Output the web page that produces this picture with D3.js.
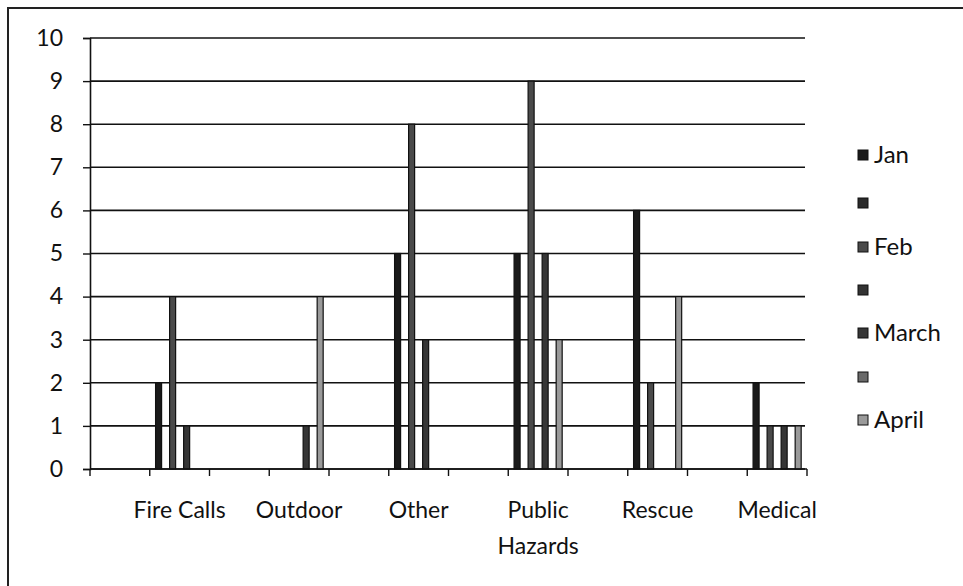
<!DOCTYPE html>
<html><head><meta charset="utf-8">
<script src="https://cdn.jsdelivr.net/npm/d3@7"></script>
<style>html,body{margin:0;padding:0;background:#fff;}svg{display:block;}</style>
</head><body>
<svg id="c" width="963" height="586"></svg>
<script>
// ---- data ----
const categories = ["", "Fire Calls", "", "Outdoor", "", "Other", "", "Public Hazards", "", "Rescue", "", "Medical"];
const seriesNames = ["Jan", "", "Feb", "", "March", "", "April"];
const janValues   = [null, 2, null, 0, null, 5, null, 5, null, 6, null, 2];
const blank1      = [null, null, null, null, null, null, null, null, null, null, null, null];
const febValues   = [null, 4, null, 0, null, 8, null, 9, null, 2, null, 1];
const blank2      = [null, null, null, null, null, null, null, null, null, null, null, null];
const marchValues = [null, 1, null, 1, null, 3, null, 5, null, 0, null, 1];
const blank3      = [null, null, null, null, null, null, null, null, null, null, null, null];
const aprilValues = [null, 0, null, 4, null, 0, null, 3, null, 4, null, 1];
const yTicks = [0,1,2,3,4,5,6,7,8,9,10];

const seriesValues = [janValues, blank1, febValues, blank2, marchValues, blank3, aprilValues];
const fills = ["#1a1a1a", "#2a2a2a", "#4a4a4a", "#333333", "#363636", "#6a6a6a", "#9a9a9a"];

const svg = d3.select("#c");
const FONT = "Lato, 'Open Sans', sans-serif";
const pLeft = 90, pRight = 807, pTop = 38, pBottom = 469;

// outer border (only top and left visible)
svg.append("path").attr("d", "M8,586 L8,8 L963,8").attr("fill","none").attr("stroke","#222").attr("stroke-width",2);

const x = d3.scaleBand().domain(d3.range(categories.length)).range([pLeft, pRight]).padding(0);
const xs = d3.scaleBand().domain(d3.range(seriesNames.length)).range([0, x.bandwidth()]).paddingInner(0).paddingOuter(0.76);
const y = d3.scaleLinear().domain([0, 10]).range([pBottom, pTop]);

// gridlines
svg.append("g").selectAll("line").data(yTicks).join("line")
  .attr("x1", pLeft).attr("x2", 805).attr("y1", d => y(d)).attr("y2", d => y(d))
  .attr("stroke", "#111").attr("stroke-width", 1.6);

// bars
const bars = [];
seriesValues.forEach((vals, si) => vals.forEach((v, ci) => { if (v != null && v > 0) bars.push({si, ci, v}); }));
svg.append("g").selectAll("rect").data(bars).join("rect")
  .attr("x", d => x(d.ci) + xs(d.si) + 0.5)
  .attr("width", xs.bandwidth() - 1)
  .attr("y", d => y(d.v))
  .attr("height", d => y(0) - y(d.v))
  .attr("fill", d => fills[d.si]).attr("stroke", "#111").attr("stroke-width", 1.2);

// y axis
const yAxis = svg.append("g").attr("transform", `translate(${pLeft},0)`)
  .call(d3.axisLeft(y).tickValues(yTicks).tickSize(7).tickPadding(20).tickFormat(d3.format("d")));
yAxis.select(".domain").attr("stroke", "#111").attr("stroke-width", 1.6);
yAxis.selectAll(".tick line").attr("stroke", "#111").attr("stroke-width", 1.4);
yAxis.selectAll("text").attr("font-family", FONT).attr("font-size", 23).attr("fill", "#111");

// x axis
const xAxisG = svg.append("g").attr("transform", `translate(0,${pBottom})`);
xAxisG.append("line").attr("x1", pLeft).attr("x2", pRight).attr("y1", 0).attr("y2", 0).attr("stroke", "#111").attr("stroke-width", 1.6);
const bounds = d3.range(categories.length + 1).map(i => i < categories.length ? x(i) : pRight);
xAxisG.selectAll("line.t").data(bounds).join("line").attr("class","t")
  .attr("x1", d => d).attr("x2", d => d).attr("y1", 0).attr("y2", 7).attr("stroke", "#111").attr("stroke-width", 1.4);

const labelG = svg.append("g");
categories.forEach((c, i) => {
  if (!c) return;
  const words = c === "Public Hazards" ? ["Public", "Hazards"] : [c];
  const t = labelG.append("text").attr("text-anchor", "middle")
    .attr("font-family", FONT).attr("font-size", 23).attr("fill", "#111");
  words.forEach((w, k) => t.append("tspan").attr("x", x(i) + x.bandwidth()/2).attr("y", 518 + k*36).text(w));
});

// legend
const legendY = [155, 203, 247, 290, 333, 377, 420];
const lg = svg.append("g");
seriesNames.forEach((n, i) => {
  lg.append("rect").attr("x", 858).attr("y", legendY[i] - 5).attr("width", 10).attr("height", 10)
    .attr("fill", fills[i]).attr("stroke", "#111").attr("stroke-width", 1);
  if (n) lg.append("text").attr("x", 874).attr("y", legendY[i]).attr("dy", "0.35em")
    .attr("font-family", FONT).attr("font-size", 24).attr("fill", "#111").text(n);
});
</script>
</body></html>
